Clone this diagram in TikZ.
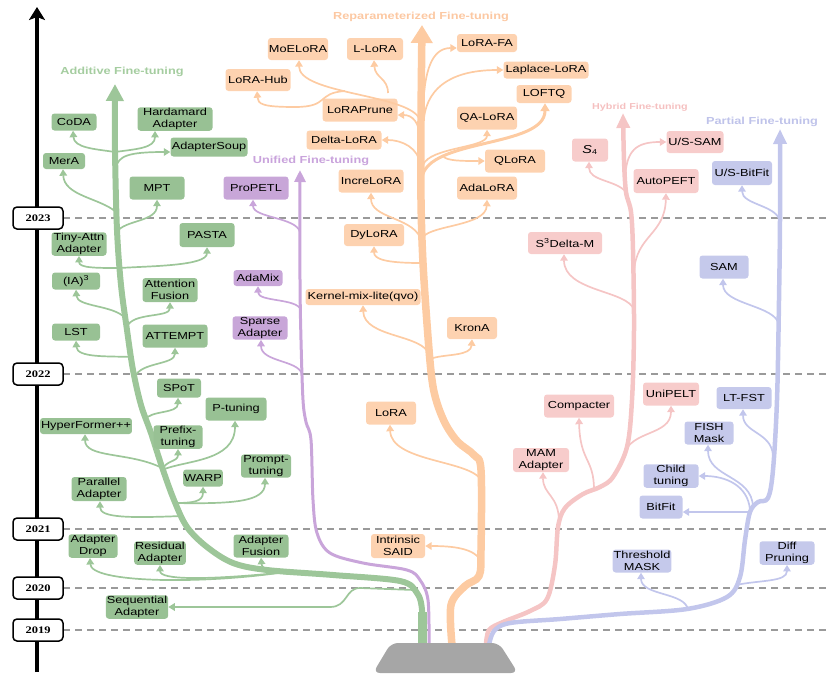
\documentclass[tikz,border=0pt]{standalone}
\usepackage{fontspec}
\setmainfont{Liberation Sans}[FakeStretch=1.25]
\newfontfamily\yearfnt{Liberation Serif}[FakeStretch=1.25]
\usetikzlibrary{arrows.meta}
\newcommand\nodefs{\fontsize{10.2}{12}\selectfont}
\newcommand\labfs{\fontsize{10.2}{12}\selectfont\bfseries}
\newcommand\smlabfs{\fontsize{8.6}{10}\selectfont\bfseries}
\definecolor{gbx}{HTML}{98C194}
\definecolor{gln}{HTML}{9DC699}
\definecolor{glab}{HTML}{A5CDA0}
\definecolor{obx}{HTML}{FDD2B0}
\definecolor{oln}{HTML}{FDCBA2}
\definecolor{olab}{HTML}{FCC8A2}
\definecolor{pbx}{HTML}{C8A6D8}
\definecolor{pln}{HTML}{C9A5DA}
\definecolor{plab}{HTML}{C9A3DC}
\definecolor{kbx}{HTML}{F7CCCB}
\definecolor{kln}{HTML}{F5C5C5}
\definecolor{klab}{HTML}{F5C0C0}
\definecolor{lbx}{HTML}{C5C9EB}
\definecolor{lln}{HTML}{C2C6EC}
\definecolor{llab}{HTML}{BFC3EA}
\definecolor{dashgray}{HTML}{9A9A9A}
\definecolor{basegray}{HTML}{A6A6A6}
\begin{document}
\begin{tikzpicture}[x=1pt,y=-1pt,
  every node/.style={font=\nodefs},
  box/.style={rounded corners=3pt, inner sep=1pt, align=center},
  sz/.style 2 args={minimum width=#1pt, minimum height=#2pt},
  gbox/.style={box, fill=gbx},
  obox/.style={box, fill=obx},
  pbox/.style={box, fill=pbx},
  kbox/.style={box, fill=kbx},
  lbox/.style={box, fill=lbx},
  br/.style={line width=1.7pt, -{Triangle[width=7.5pt,length=6.5pt]}},
  gbr/.style={br, draw=gln},
  obr/.style={br, draw=oln},
  pbr/.style={br, draw=pln},
  kbr/.style={br, draw=kln},
  lbr/.style={br, draw=lln},
  lab/.style={font=\labfs, inner sep=0pt},
  yearbox/.style={draw=black, line width=1.5pt, fill=white, rounded corners=4pt,
    minimum width=50pt, minimum height=22pt, inner sep=0pt,
    font=\yearfnt\bfseries\fontsize{10}{12}\selectfont},
  dashln/.style={draw=dashgray, line width=1.3pt, dash pattern=on 7pt off 5pt}
]
\useasboundingbox (0,0) rectangle (830,678);

% dashed year lines
\foreach \yy in {218,374,529,588,630} \draw[dashln] (63,\yy) -- (830,\yy);

% trunks
\draw[draw=gln, line width=6pt, -{Triangle[width=17pt,length=17pt]}] plot[smooth, tension=0.55] coordinates {(422,645) (422,610) (417,593) (400,581) (333,575) (267,570) (233,563) (207,547) (187,527) (174,500) (162,467) (151,433) (141,405) (133,370) (127,330) (121,285) (117,230) (115,150) (115,84)};
\draw[draw=gln, line width=9pt] (422,645) -- (422,612);
\draw[draw=pln, line width=3pt, -{Triangle[width=11pt,length=12pt]}] plot[smooth, tension=0.55] coordinates {(429,645) (428,600) (420,580) (407,570) (363,563) (330,553) (317,533) (313,500) (311,440) (306,422) (303,400) (301,340) (300,280) (300,170)};
\draw[draw=oln, line width=7.5pt, -{Triangle[width=21pt,length=18pt]}] plot[smooth, tension=0.55] coordinates {(452,645) (451,605) (465,586) (479,576) (481,550) (481,470) (474,455) (458,442) (446,425) (437,403) (432,380) (428,337) (423,263) (421,200) (421,120) (422,25)};
\draw[draw=kln, line width=4.5pt, -{Triangle[width=13pt,length=15pt]}] plot[smooth, tension=0.55] coordinates {(486,645) (489,630) (503,622) (530,611) (547,599) (555,565) (558,527) (565,508) (583,494) (600,487) (613,477) (627,447) (632,400) (634,330) (633,250) (631,212) (626,192) (624,160) (623,113)};
\draw[draw=lln, line width=4.5pt, -{Triangle[width=13pt,length=15pt]}] plot[smooth, tension=0.55] coordinates {(489,645) (494,631) (510,623) (560,619) (620,614) (687,609) (727,597) (740,577) (745,540) (750,512) (758,502) (768,498) (773,470) (777,400) (779,300) (780,220) (780,129)};

% base
\fill[basegray, rounded corners=7pt] (373,673) -- (391,643) -- (499,643) -- (518,673) -- cycle;

% category labels
\node[lab, text=glab] (addlab) at (122,72) {Additive Fine-tuning};
\node[lab, text=olab] (replab) at (421,17) {Reparameterized Fine-tuning};
\node[lab, text=plab] (unilab) at (311,161) {Unified Fine-tuning};
\node[lab, text=klab, font=\smlabfs] (hyblab) at (640,107) {Hybrid Fine-tuning};
\node[lab, text=llab] (parlab) at (762,122) {Partial Fine-tuning};

% green nodes
\node[gbox, sz={45}{17}] (coda) at (74,122) {CoDA};
\node[gbox, sz={75}{23}] (hard) at (175,119) {Hardamard\\Adapter};
\node[gbox, sz={77}{19}] (soup) at (209,147) {AdapterSoup};
\node[gbox, sz={42}{16}] (mera) at (64,161) {MerA};
\node[gbox, sz={55}{23}] (mpt) at (157,188) {MPT};
\node[gbox, sz={55}{22}] (tiny) at (79,244) {Tiny-Attn\\Adapter};
\node[gbox, sz={55}{24}] (pasta) at (207,235) {PASTA};
\node[gbox, sz={48}{17}] (ia) at (76,281) {(IA)\textsuperscript{3}};
\node[gbox, sz={55}{24}] (attf) at (170,290) {Attention\\Fusion};
\node[gbox, sz={48}{17}] (lst) at (76,332) {LST};
\node[gbox, sz={65}{23}] (attempt) at (175,336) {ATTEMPT};
\node[gbox, sz={44}{19}] (spot) at (179,388) {SPoT};
\node[gbox, sz={61}{23}] (ptuning) at (236,409) {P-tuning};
\node[gbox, sz={91}{16}] (hyper) at (86,426) {HyperFormer++};
\node[gbox, sz={49}{23}] (prefix) at (178,437) {Prefix-\\tuning};
\node[gbox, sz={50}{23}] (prompt) at (266,466) {Prompt-\\tuning};
\node[gbox, sz={39}{17}] (warp) at (203,478) {WARP};
\node[gbox, sz={55}{24}] (parallel) at (99,489) {Parallel\\Adapter};
\node[gbox, sz={49}{22}] (drop) at (93,546) {Adapter\\Drop};
\node[gbox, sz={50}{23}] (residual) at (160,553) {Residual\\Adapter};
\node[gbox, sz={55}{23}] (fusion) at (261,546) {Adapter\\Fusion};
\node[gbox, sz={61}{23}] (seq) at (137,607) {Sequential\\Adapter};

% purple nodes
\node[pbox, sz={65}{23}] (propetl) at (256,188) {ProPETL};
\node[pbox, sz={49}{16}] (adamix) at (258,278) {AdaMix};
\node[pbox, sz={55}{22}] (sparse) at (260,328) {Sparse\\Adapter};

% orange nodes
\node[obox, sz={59}{22}] (moe) at (298,49) {MoELoRA};
\node[obox, sz={56}{22}] (llora) at (375,49) {L-LoRA};
\node[obox, sz={60}{18}] (lorafa) at (487,43) {LoRA-FA};
\node[obox, sz={65}{22}] (lorahub) at (258,80) {LoRA-Hub};
\node[obox, sz={85}{17}] (laplace) at (546,70) {Laplace-LoRA};
\node[obox, sz={55}{18}] (loftq) at (544,94) {LOFTQ};
\node[obox, sz={75}{23}] (loraprune) at (360,110) {LoRAPrune};
\node[obox, sz={60}{23}] (qalora) at (487,118) {QA-LoRA};
\node[obox, sz={75}{19}] (delta) at (344,140) {Delta-LoRA};
\node[obox, sz={60}{23}] (qlora) at (515,161) {QLoRA};
\node[obox, sz={65}{23}] (increlora) at (371,181) {IncreLoRA};
\node[obox, sz={60}{23}] (adalora) at (487,188) {AdaLoRA};
\node[obox, sz={60}{22}] (dylora) at (374,235) {DyLoRA};
\node[obox, sz={115}{16}] (kernel) at (363,297) {Kernel-mix-lite(qvo)};
\node[obox, sz={50}{22}] (krona) at (472,328) {KronA};
\node[obox, sz={50}{23}] (lora) at (391,413) {LoRA};
\node[obox, sz={54}{24}] (said) at (398,546) {Intrinsic\\SAID};

% pink nodes
\node[kbox, sz={36}{23}] (s4) at (590,150) {{\fontsize{11.5}{12}\selectfont\itshape S}\textsubscript{4}};
\node[kbox, sz={57}{22}] (ussam) at (695,142) {U/S-SAM};
\node[kbox, sz={65}{24}] (autopeft) at (666,181) {AutoPEFT};
\node[kbox, sz={74}{22}] (s3) at (565,243) {S\textsuperscript{3}Delta-M};
\node[kbox, sz={70}{23}] (compacter) at (579,406) {Compacter};
\node[kbox, sz={56}{23}] (unipelt) at (671,394) {UniPELT};
\node[kbox, sz={56}{24}] (mam) at (541,460) {MAM\\Adapter};

% lavender nodes
\node[lbox, sz={60}{24}] (usbitfit) at (742,173) {U/S-BitFit};
\node[lbox, sz={49}{23}] (sam) at (724,267) {SAM};
\node[lbox, sz={55}{22}] (ltfst) at (744,398) {LT-FST};
\node[lbox, sz={49}{23}] (fish) at (709,433) {FISH\\Mask};
\node[lbox, sz={55}{23}] (child) at (671,476) {Child\\tuning};
\node[lbox, sz={43}{23}] (bitfit) at (661,507) {BitFit};
\node[lbox, sz={58}{23}] (thresh) at (642,561) {Threshold\\MASK};
\node[lbox, sz={55}{23}] (diff) at (787,553) {Diff\\Pruning};

% branch junctions
\coordinate (g1) at (115,152);
\coordinate (g2) at (116,168);
\coordinate (g3) at (116,212);
\coordinate (g4) at (117,232);
\coordinate (g5) at (120,268);
\coordinate (g6) at (125,318);
\coordinate (g7) at (127,327);
\coordinate (g8) at (132,357);
\coordinate (g9) at (135,377);
\coordinate (g10) at (145,420);
\coordinate (g11) at (160,467);
\coordinate (g12) at (162,470);
\coordinate (g13) at (174,503);
\coordinate (g14) at (182,516);
\coordinate (g15) at (278,573);
\coordinate (g17) at (290,574);
\coordinate (g18) at (414,590);
\coordinate (p1) at (300,232);
\coordinate (p2) at (301,310);
\coordinate (p3) at (302,374);
\coordinate (o1) at (423,112);
\coordinate (o2) at (424,118);
\coordinate (o3) at (419,118);
\coordinate (o4) at (388,93);
\coordinate (o5) at (345,91);
\coordinate (o6) at (420,140);
\coordinate (o7) at (420,165);
\coordinate (o8) at (423,165);
\coordinate (o9) at (422,178);
\coordinate (o10) at (443,156);
\coordinate (o11) at (420,237);
\coordinate (o12) at (423,237);
\coordinate (o13) at (421,263);
\coordinate (o14) at (429,355);
\coordinate (o15) at (433,358);
\coordinate (o16) at (481,480);
\coordinate (o17) at (481,562);
\coordinate (k1) at (626,192);
\coordinate (k2) at (625,180);
\coordinate (k3) at (634,272);
\coordinate (k4) at (634,310);
\coordinate (k5) at (594,490);
\coordinate (k6) at (624,455);
\coordinate (k7) at (559,522);
\coordinate (l1) at (780,222);
\coordinate (l2) at (779,325);
\coordinate (l3) at (773,455);
\coordinate (l4) at (753,507);
\coordinate (l5) at (750,510);
\coordinate (l6) at (749,512);
\coordinate (l7) at (688,610);
\coordinate (l8) at (736,585);

% green branches
\draw[gbr] (g1) .. controls (95,149) and (74,148) .. ([xshift=-1pt]coda.south);
\draw[gbr] (g1) .. controls (137,149) and (155,148) .. ([xshift=-20pt]hard.south);
\draw[gbr] (g2) .. controls (118,156) and (128,152) .. ([yshift=-5pt]soup.west);
\draw[gbr] (g3) .. controls (100,198) and (64,196) .. ([xshift=-1pt]mera.south);
\draw[gbr] (g4) .. controls (124,220) and (157,222) .. (mpt.south);
\draw[gbr] (g5) .. controls (96,268) and (79,268) .. (tiny.south);
\draw[gbr] (g5) .. controls (150,266) and (207,266) .. (pasta.south);
\draw[gbr] (g6) .. controls (114,305) and (77,307) .. (ia.south);
\draw[gbr] (g7) .. controls (132,312) and (170,318) .. (attf.south);
\draw[gbr] (g8) .. controls (108,356) and (77,358) .. (lst.south);
\draw[gbr] (g9) .. controls (140,362) and (175,365) .. (attempt.south);
\draw[gbr] (g10) .. controls (150,410) and (178,414) .. ([xshift=-1pt]spot.south);
\draw[gbr] (g11) .. controls (128,452) and (85,458) .. ([xshift=-1pt]hyper.south);
\draw[gbr] (g12) .. controls (166,460) and (178,462) .. (prefix.south);
\draw[gbr] (g12) .. controls (185,460) and (235,462) .. ([xshift=-1pt]ptuning.south);
\draw[gbr] (g13) .. controls (192,503) and (203,502) .. (warp.south);
\draw[gbr] (g13) .. controls (232,504) and (265,502) .. ([xshift=-1pt]prompt.south);
\draw[gbr] (g14) .. controls (130,518) and (100,518) .. ([xshift=1pt]parallel.south);
\draw[gbr] (g15) .. controls (200,584) and (91,583) .. ([xshift=-3pt]drop.south);
\draw[gbr] (g15) .. controls (205,580) and (160,580) .. (residual.south);
\draw[gbr] (g17) .. controls (272,572) and (262,570) .. (fusion.south);
\draw[gbr] (g18) -- (360,588) .. controls (345,588) and (348,607) .. (330,607) -- (seq.east);

% purple branches
\draw[pbr] (p1) .. controls (296,217) and (253,218) .. ([xshift=-3pt]propetl.south);
\draw[pbr] (p2) .. controls (297,298) and (258,302) .. (adamix.south);
\draw[pbr] (p3) .. controls (298,360) and (261,362) .. ([xshift=1pt]sparse.south);

% orange branches
\draw[obr] (o1) .. controls (424,70) and (432,48) .. ([yshift=-5pt]lorafa.west);
\draw[obr] (o2) .. controls (428,85) and (455,70) .. (laplace.west);
\draw[obr] (o3) .. controls (406,94) and (299,94) .. ([xshift=1pt]moe.south);
\draw[obr] (o4) .. controls (388,78) and (375,78) .. ([xshift=-1pt]llora.south);
\draw[obr] (o5) .. controls (316,93) and (330,107) .. (295,107) .. controls (262,107) and (258,104) .. ([xshift=-1pt]lorahub.south);
\draw[obr] (o6) .. controls (420,122) and (412,115) .. ([yshift=-5pt]loraprune.east);
\draw[obr] (o7) .. controls (419,148) and (402,140) .. (delta.east);
\draw[obr] (o8) .. controls (430,147) and (487,148) .. (qalora.south);
\draw[obr, line width=3pt, -{Triangle[width=9pt,length=8pt]}] (o9) .. controls (427,138) and (545,148) .. ([xshift=1pt]loftq.south);
\draw[obr] (o10) .. controls (446,161) and (462,161) .. (qlora.west);
\draw[obr] (o11) .. controls (410,217) and (371,218) .. (increlora.south);
\draw[obr] (o12) .. controls (432,225) and (486,226) .. (adalora.south);
\draw[obr] (o13) .. controls (385,263) and (374,259) .. (dylora.south);
\draw[obr] (o14) .. controls (424,334) and (364,338) .. (kernel.south);
\draw[obr] (o15) .. controls (447,354) and (471,356) .. (krona.south);
\draw[obr] (o16) .. controls (470,460) and (391,462) .. ([xshift=-1pt]lora.south);
\draw[obr] (o17) .. controls (476,548) and (452,546) .. (said.east);

% pink branches
\draw[kbr] (k1) .. controls (616,180) and (589,181) .. ([xshift=-1pt]s4.south);
\draw[kbr] (k2) .. controls (626,150) and (636,142) .. (ussam.west);
\draw[kbr] (k3) .. controls (636,235) and (665,235) .. (autopeft.south);
\draw[kbr] (k4) .. controls (628,290) and (564,292) .. ([xshift=-1pt]s3.south);
\draw[kbr] (k5) .. controls (594,458) and (580,462) .. (compacter.south);
\draw[kbr] (k6) .. controls (630,430) and (671,436) .. (unipelt.south);
\draw[kbr] (k7) .. controls (559,495) and (543,495) .. ([xshift=2pt]mam.south);

% lavender branches
\draw[lbr] (l1) .. controls (778,205) and (742,205) .. (usbitfit.south);
\draw[lbr] (l2) .. controls (776,305) and (723,305) .. ([xshift=-1pt]sam.south);
\draw[lbr] (l3) .. controls (771,432) and (743,433) .. ([xshift=-1pt]ltfst.south);
\draw[lbr] (l4) .. controls (752,475) and (708,478) .. ([xshift=-1pt]fish.south);
\draw[lbr] (l5) .. controls (748,485) and (725,476) .. (child.east);
\draw[lbr] (l6) -- ([yshift=-5pt]bitfit.east);
\draw[lbr] (l7) .. controls (686,592) and (641,596) .. ([xshift=-1pt]thresh.south);
\draw[lbr] (l8) .. controls (760,580) and (787,582) .. (diff.south);

% timeline axis
\coordinate (axbot) at (37,672);
\coordinate (axtop) at (37,7);
\draw[line width=3.5pt, -{Stealth[width=16pt,length=13pt,inset=3pt]}] (axbot) -- (axtop);
\node[yearbox] (y2023) at (38,218) {2023};
\node[yearbox] (y2022) at (38,374) {2022};
\node[yearbox] (y2021) at (38,529) {2021};
\node[yearbox] (y2020) at (38,588) {2020};
\node[yearbox] (y2019) at (38,630) {2019};
\end{tikzpicture}
\end{document}
